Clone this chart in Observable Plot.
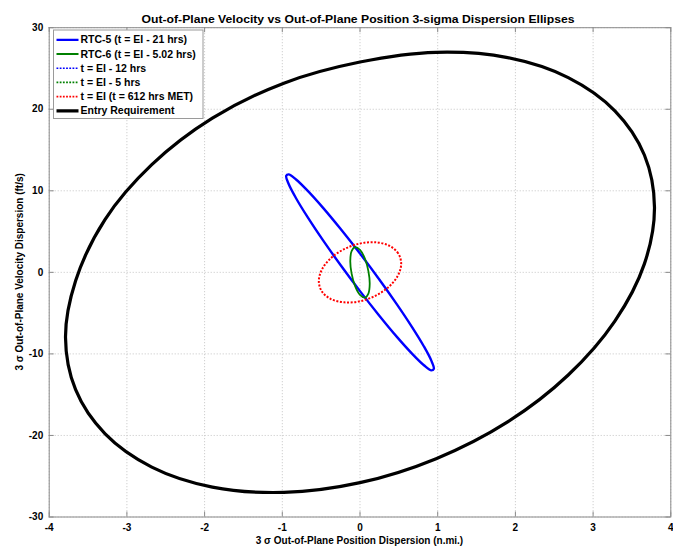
<!DOCTYPE html>
<html>
<head>
<meta charset="utf-8">
<script src="https://cdn.jsdelivr.net/npm/d3@7"></script>
<script src="https://cdn.jsdelivr.net/npm/@observablehq/plot@0.6"></script>
<style>
  body { margin: 0; background: #fff; }
  #wrap { position: relative; width: 673px; height: 547px; overflow: hidden; font-family: "Liberation Sans", Arial, Helvetica, sans-serif; }
  #wrap svg { position: absolute; left: 0; top: 0; }
</style>
</head>
<body>
<div id="wrap"></div>
<script>
// ---- data ----
const titleText = "Out-of-Plane Velocity vs Out-of-Plane Position 3-sigma Dispersion Ellipses";
const xLabel = "3 σ Out-of-Plane Position Dispersion (n.mi.)";
const yLabel = "3 σ Out-of-Plane Velocity Dispersion (ft/s)";
const xTicks = [-4, -3, -2, -1, 0, 1, 2, 3, 4];
const yTicks = [-30, -20, -10, 0, 10, 20, 30];

const legendNames = [
  "RTC-5 (t = EI - 21 hrs)",
  "RTC-6 (t = EI - 5.02 hrs)",
  "t = EI - 12 hrs",
  "t = EI - 5 hrs",
  "t = EI (t = 612 hrs MET)",
  "Entry Requirement"
];

// RTC-5 ellipse (blue, solid)
const rtc5X = [0.95, 0.918, 0.823, 0.672, 0.475, 0.246, 0, -0.246, -0.475, -0.672, -0.823, -0.918,
               -0.95, -0.918, -0.823, -0.672, -0.475, -0.246, 0, 0.246, 0.475, 0.672, 0.823, 0.918];
const rtc5Y = [-11.83, -10.83, -9.09, -6.74, -3.92, -0.84, 2.30, 5.28, 7.91, 9.99, 11.39, 12.02,
               11.83, 10.83, 9.09, 6.74, 3.92, 0.84, -2.30, -5.28, -7.91, -9.99, -11.39, -12.02];

// RTC-6 ellipse (green, solid)
const rtc6X = [0.125, 0.108, 0.063, 0, -0.063, -0.108, -0.125, -0.108, -0.063, 0, 0.063, 0.108];
const rtc6Y = [-1.41, 0.16, 1.69, 2.76, 3.10, 2.60, 1.41, -0.16, -1.69, -2.76, -3.10, -2.60];

// t = EI ellipse (red, dotted)
const eiX = [0.53, 0.49, 0.375, 0.203, 0, -0.203, -0.375, -0.49, -0.53, -0.49, -0.375, -0.203, 0, 0.203, 0.375, 0.49];
const eiY = [1.08, 2.35, 3.27, 3.68, 3.54, 2.85, 1.74, 0.35, -1.08, -2.35, -3.27, -3.68, -3.54, -2.85, -1.74, -0.35];

// Entry requirement ellipse (black, thick)
const entryX = [3.79, 3.66, 3.28, 2.68, 1.90, 0.98, 0, -0.98, -1.90, -2.68, -3.28, -3.66,
                -3.79, -3.66, -3.28, -2.68, -1.90, -0.98, 0, 0.98, 1.90, 2.68, 3.28, 3.66];
const entryY = [7.98, 14.39, 19.81, 23.88, 26.33, 26.98, 25.79, 23.2, 18.9, 13.2, 6.5, -1.04,
                -7.98, -14.39, -19.81, -23.88, -26.33, -26.98, -25.79, -22.85, -18.34, -12.59, -5.98, 1.04];

// ---- build table ----
const toRows = (name, xs, ys) => xs.map((x, i) => ({ name, x, y: ys[i] }));
const entryRows = toRows(legendNames[5], entryX, entryY);
const rtc5Rows = toRows(legendNames[0], rtc5X, rtc5Y);
const rtc6Rows = toRows(legendNames[1], rtc6X, rtc6Y);
const eiRows = toRows(legendNames[4], eiX, eiY);

const W = 673, H = 547;
const mL = 48.7, mR = 2.7, mT = 27.2, mB = 30.5;
const innerW = W - mL - mR, innerH = H - mT - mB;
const tickLen = 5;
const gridColor = "#c4c4c4";
const axisColor = "#8a8a8a";
const fmt = d => String(d);

const chart = Plot.plot({
  width: W,
  height: H,
  marginLeft: mL,
  marginRight: mR,
  marginTop: mT,
  marginBottom: mB,
  style: { fontFamily: "'Liberation Sans', Arial, Helvetica, sans-serif", fontSize: "10px", fontWeight: "bold", color: "#000", background: "transparent" },
  x: { domain: [-4, 4] },
  y: { domain: [-30, 30] },
  marks: [
    Plot.gridX(xTicks, { stroke: gridColor, strokeOpacity: 1, strokeDasharray: "1,2" }),
    Plot.gridY(yTicks, { stroke: gridColor, strokeOpacity: 1, strokeDasharray: "1,2" }),
    // inward tick marks on all four sides
    Plot.tickX(xTicks, { x: d => d, insetTop: innerH - tickLen, stroke: axisColor }),
    Plot.tickX(xTicks, { x: d => d, insetBottom: innerH - tickLen, stroke: axisColor }),
    Plot.tickY(yTicks, { y: d => d, insetRight: innerW - tickLen, stroke: axisColor }),
    Plot.tickY(yTicks, { y: d => d, insetLeft: innerW - tickLen, stroke: axisColor }),
    Plot.axisX(xTicks, { anchor: "bottom", tickSize: 0, tickPadding: 7, tickFormat: fmt, label: null, fontWeight: "bold" }),
    Plot.axisY(yTicks, { anchor: "left", tickSize: 0, tickPadding: 6, tickFormat: fmt, label: null, fontWeight: "bold" }),
    Plot.line(entryRows, { x: "x", y: "y", curve: "catmull-rom-closed", stroke: "#000", strokeWidth: 3.2 }),
    Plot.line(rtc5Rows, { x: "x", y: "y", curve: "catmull-rom-closed", stroke: "#0000ff", strokeWidth: 2.4 }),
    Plot.line(eiRows, { x: "x", y: "y", curve: "catmull-rom-closed", stroke: "#ff0000", strokeWidth: 2, strokeDasharray: "2,1.6", strokeLinecap: "butt" }),
    Plot.line(rtc6Rows, { x: "x", y: "y", curve: "catmull-rom-closed", stroke: "#008000", strokeWidth: 1.8 }),
    Plot.frame({ stroke: axisColor, strokeWidth: 1 })
  ]
});

document.getElementById("wrap").appendChild(chart);

// ---- title, axis titles & legend (annotation) ----
const svg = d3.select(chart);
const font = "'Liberation Sans', Arial, Helvetica, sans-serif";
const ann = svg.append("g").attr("font-family", font).attr("font-weight", "bold").attr("fill", "#000");

ann.append("text")
  .attr("x", 358).attr("y", 22.5)
  .attr("text-anchor", "middle").attr("font-size", 11.5)
  .attr("textLength", 433).attr("lengthAdjust", "spacingAndGlyphs")
  .text(titleText);

ann.append("text")
  .attr("x", mL + innerW / 2).attr("y", 544)
  .attr("text-anchor", "middle").attr("font-size", 10)
  .text(xLabel);

ann.append("text")
  .attr("transform", `translate(23,${mT + innerH / 2}) rotate(-90)`)
  .attr("text-anchor", "middle").attr("font-size", 10)
  .text(yLabel);

const legendStyles = [
  { stroke: "#0000ff", width: 2.2, dash: null },
  { stroke: "#008000", width: 2.2, dash: null },
  { stroke: "#0000ff", width: 1.6, dash: "1.8,1.4" },
  { stroke: "#008000", width: 1.6, dash: "1.8,1.4" },
  { stroke: "#ff0000", width: 1.6, dash: "1.8,1.4" },
  { stroke: "#000000", width: 3.2, dash: null }
];
const lg = svg.append("g");
lg.append("rect").attr("x", 53.5).attr("y", 30).attr("width", 149.5).attr("height", 88.5)
  .attr("fill", "#fff").attr("stroke", "#9a9a9a").attr("stroke-width", 1);
const lgClip = svg.append("clipPath").attr("id", "lgclip");
lgClip.append("rect").attr("x", 53.5).attr("y", 30).attr("width", 148.5).attr("height", 88.5);
const lgItems = lg.append("g").attr("clip-path", "url(#lgclip)");
legendNames.forEach((name, i) => {
  const yy = 39.8 + i * 14.2;
  const st = legendStyles[i];
  const ln = lgItems.append("line").attr("x1", 56.5).attr("x2", 78.5).attr("y1", yy).attr("y2", yy)
    .attr("stroke", st.stroke).attr("stroke-width", st.width).attr("stroke-linecap", "butt");
  if (st.dash) ln.attr("stroke-dasharray", st.dash);
  lgItems.append("text").attr("x", 80.5).attr("y", yy).attr("dy", "0.35em")
    .attr("text-anchor", "start")
    .attr("font-family", font).attr("font-weight", "bold").attr("font-size", 10.5)
    .attr("fill", "#000").text(name);
});
</script>
</body>
</html>
